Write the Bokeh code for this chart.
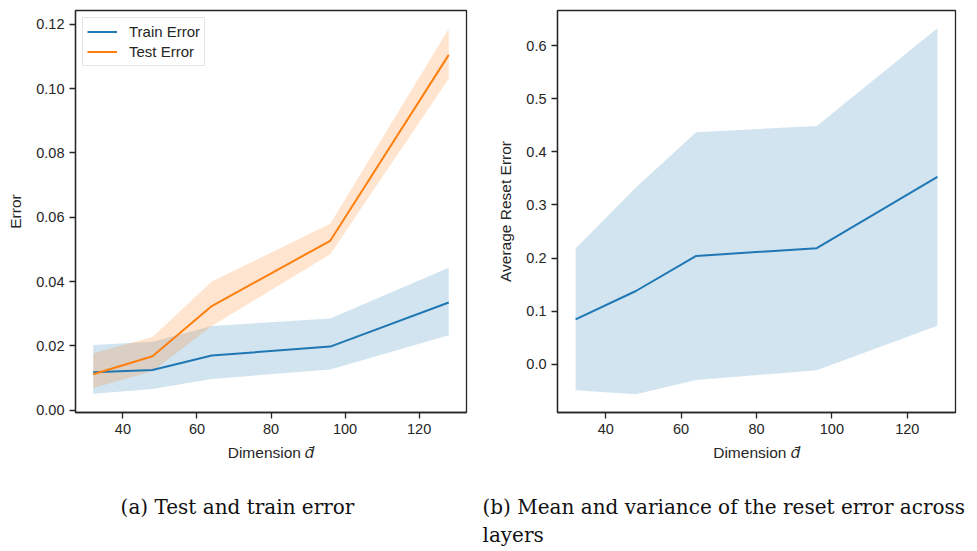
from bokeh.plotting import figure
from bokeh.layouts import row, column
from bokeh.models import Range1d, FixedTicker, PrintfTickFormatter
from bokeh.core.properties import value
from bokeh.embed import file_html
from bokeh.resources import INLINE

# ---- data ----
dims = [32, 48, 64, 96, 128]
train_mean = [0.0118, 0.0125, 0.0170, 0.0198, 0.0335]
train_lo = [0.0051, 0.0066, 0.0097, 0.0127, 0.0233]
train_hi = [0.0203, 0.0213, 0.0262, 0.0285, 0.0443]
test_mean = [0.0112, 0.0168, 0.0324, 0.0527, 0.1105]
test_lo = [0.0069, 0.0121, 0.0262, 0.0485, 0.1031]
test_hi = [0.0177, 0.0228, 0.0400, 0.0580, 0.1186]

reset_mean = [0.0846, 0.138, 0.204, 0.2186, 0.353]
reset_lo = [-0.049, -0.0564, -0.0295, -0.0113, 0.0726]
reset_hi = [0.218, 0.333, 0.437, 0.449, 0.633]

left_yticks = [0.0, 0.02, 0.04, 0.06, 0.08, 0.10, 0.12]
right_yticks = [0.0, 0.1, 0.2, 0.3, 0.4, 0.5, 0.6]
xticks = [40, 60, 80, 100, 120]

caption_a = "(a) Test and train error"
caption_b1 = "(b) Mean and variance of the reset error across"
caption_b2 = "layers"

BLUE = "#1f77b4"
ORANGE = "#ff7f0e"
DARK = "#262626"
SANS = "Liberation Sans"


def style(p, ylabel, yfmt):
    p.grid.visible = False
    p.outline_line_color = DARK
    p.outline_line_width = 1.3
    p.background_fill_color = "white"
    p.border_fill_color = "white"
    for ax in (p.xaxis[0], p.yaxis[0]):
        ax.axis_line_color = DARK
        ax.axis_line_width = 1.3
        ax.major_tick_line_color = DARK
        ax.major_tick_line_width = 1.3
        ax.major_tick_out = 6
        ax.major_tick_in = 0
        ax.minor_tick_line_color = None
        ax.major_label_text_font = SANS
        ax.major_label_text_font_size = "14.5px"
        ax.major_label_text_color = DARK
        ax.axis_label_text_font = SANS
        ax.axis_label_text_font_size = "15.5px"
        ax.axis_label_text_font_style = "normal"
        ax.axis_label_text_color = DARK
        ax.major_label_standoff = 5
    p.xaxis[0].ticker = FixedTicker(ticks=xticks)
    p.xaxis[0].axis_label = "Dimension 𝑑̄"
    p.xaxis[0].axis_label_standoff = 7
    p.yaxis[0].axis_label = ylabel
    p.yaxis[0].formatter = PrintfTickFormatter(format=yfmt)
    p.yaxis[0].axis_label_standoff = 9


p1 = figure(frame_width=391, frame_height=402, min_border_left=75, min_border_right=22,
            min_border_top=10, min_border_bottom=58,
            x_range=Range1d(27.2, 132.8), y_range=Range1d(-0.0007, 0.1243),
            output_backend="svg", toolbar_location=None)
p1.varea(x=dims, y1=train_lo, y2=train_hi, fill_color=BLUE, fill_alpha=0.2)
p1.varea(x=dims, y1=test_lo, y2=test_hi, fill_color=ORANGE, fill_alpha=0.2)
p1.line(dims, train_mean, line_color=BLUE, line_width=2, legend_label="Train Error")
p1.line(dims, test_mean, line_color=ORANGE, line_width=2, legend_label="Test Error")
style(p1, "Error", "%.2f")
p1.yaxis[0].ticker = FixedTicker(ticks=left_yticks)
lg = p1.legend[0]
lg.location = "top_left"
lg.margin = 7
lg.padding = 4
lg.spacing = 1
lg.glyph_width = 30
lg.glyph_height = 19
lg.label_height = 19
lg.label_standoff = 12
lg.label_text_font = SANS
lg.label_text_font_size = "15px"
lg.label_text_color = DARK
lg.border_line_color = "#cccccc"
lg.border_line_width = 1
lg.background_fill_alpha = 0.8

p2 = figure(frame_width=398, frame_height=402, min_border_left=69, min_border_right=22,
            min_border_top=10, min_border_bottom=58,
            x_range=Range1d(27.2, 132.8), y_range=Range1d(-0.0909, 0.6664),
            output_backend="svg", toolbar_location=None)
p2.varea(x=dims, y1=reset_lo, y2=reset_hi, fill_color=BLUE, fill_alpha=0.2)
p2.line(dims, reset_mean, line_color=BLUE, line_width=2)
style(p2, "Average Reset Error", "%.1f")
p2.yaxis[0].ticker = FixedTicker(ticks=right_yticks)

cap = figure(width=977, height=81, x_range=Range1d(0, 977), y_range=Range1d(0, 81),
             output_backend="svg", toolbar_location=None, min_border=0)
cap.axis.visible = False
cap.grid.visible = False
cap.outline_line_color = None
SERIF = value("DejaVu Serif")
cap.text(x=[237], y=[45], text=[caption_a], text_align="center", text_baseline="middle",
         text_font=SERIF, text_font_size="20px", text_color="#111111")
cap.text(x=[482, 482], y=[45, 17], text=[caption_b1, caption_b2], text_align="left",
         text_baseline="middle", text_font=SERIF, text_font_size="20px", text_color="#111111")

layout = column(row(p1, p2), cap)
open("out.html", "w").write(file_html(layout, INLINE))
